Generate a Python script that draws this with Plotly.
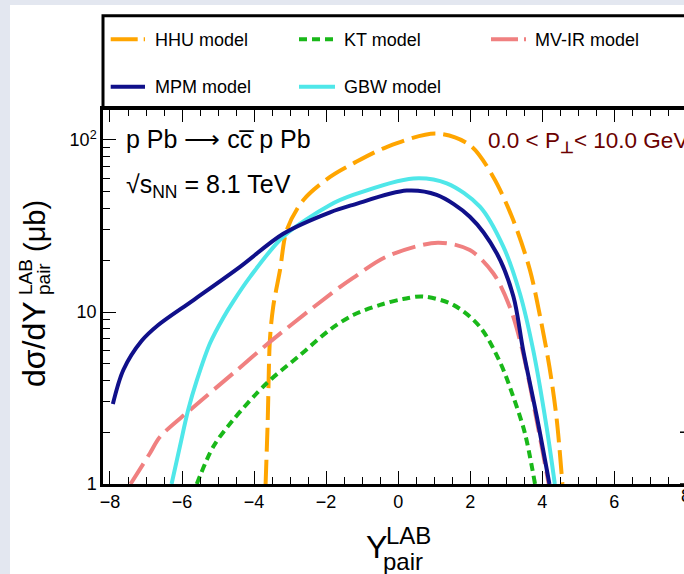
import plotly.graph_objects as go

# ---------------- data ----------------
hhu_x = [-3.68, -3.62, -3.56, -3.47, -3.28, -3.09, -2.63, -1.89, -1.25, -0.32, 1.07, 1.99, 2.64, 3.20, 3.66, 3.95, 4.20, 4.40, 4.56]
hhu_y = [1.0, 2.36, 6.9, 10.7, 17.5, 30.0, 44.8, 61.0, 73.0, 91.0, 109.0, 93.5, 61.0, 34.0, 17.5, 9.2, 4.8, 2.4, 1.0]

kt_x = [-5.59, -5.13, -4.58, -3.65, -2.73, -1.89, -1.25, -0.50, 0.14, 0.70, 1.53, 2.27, 2.83, 3.20, 3.52, 3.80]
kt_y = [1.0, 1.65, 2.36, 3.85, 5.6, 7.9, 9.6, 11.0, 11.9, 12.3, 11.0, 8.2, 5.1, 3.2, 1.97, 1.0]

mvir_x = [-7.43, -6.89, -6.61, -5.78, -4.58, -3.56, -2.17, -1.61, -1.25, -0.32, 1.10, 1.99, 2.64, 3.10, 3.45, 3.82, 4.18]
mvir_y = [1.0, 1.51, 1.88, 2.69, 4.4, 6.7, 11.4, 14.0, 15.8, 21.0, 25.3, 22.9, 16.8, 10.7, 6.0, 2.5, 1.0]

mpm_x = [-7.92, -7.63, -7.12, -6.66, -5.69, -4.39, -3.19, -1.89, -1.25, 0.24, 1.07, 1.99, 2.74, 3.20, 3.47, 3.85, 4.20]
mpm_y = [2.92, 4.6, 6.8, 8.4, 11.7, 18.3, 28.5, 38.0, 42.0, 50.8, 47.9, 35.8, 21.9, 12.3, 6.0, 2.46, 1.0]

gbw_x = [-6.29, -6.06, -5.83, -5.59, -5.22, -4.85, -4.58, -4.11, -3.19, -1.89, -1.25, 0.42, 1.35, 2.27, 2.92, 3.38, 3.75, 4.12, 4.35]
gbw_y = [1.0, 1.65, 2.69, 4.0, 6.6, 9.3, 11.5, 16.0, 27.4, 41.9, 47.9, 59.8, 56.0, 41.0, 24.0, 12.8, 6.0, 2.15, 1.0]

series_names = ["HHU model", "KT model", "MV-IR model", "MPM model", "GBW model"]
x_tick_vals = [-8, -6, -4, -2, 0, 2, 4, 6]
y_tick_vals = [1, 10, 100]
y_tick_text = ["1", "10", "10<sup>2</sup>"]

# ---------------- styles ----------------
FONT = "Liberation Sans, Arial, Helvetica, sans-serif"
C_HHU, C_KT, C_MV, C_MPM, C_GBW = "#FFA500", "#19B819", "#F08080", "#10108A", "#4FE7E9"
LW = 4
DASH_LONG = "24px,8px"
DASH_DOT = "8px,5px"

W, H = 684, 574
ML, MR, MT, MB = 103, 0, 109, 90
PW, PH = W - ML - MR, H - MT - MB


def px(xp):
    return (xp - ML) / PW


def py(yp):
    return (H - MB - yp) / PH


fig = go.Figure()
spec = [
    (hhu_x, hhu_y, C_HHU, DASH_LONG, series_names[0]),
    (kt_x, kt_y, C_KT, DASH_DOT, series_names[1]),
    (mvir_x, mvir_y, C_MV, DASH_LONG, series_names[2]),
    (gbw_x, gbw_y, C_GBW, "solid", series_names[4]),
    (mpm_x, mpm_y, C_MPM, "solid", series_names[3]),
]
for xs, ys, c, d, n in spec:
    fig.add_trace(go.Scatter(x=xs, y=ys, mode="lines", name=n,
                             line=dict(color=c, width=LW, dash=d, shape="spline", smoothing=0.9),
                             showlegend=False, hoverinfo="skip"))

shapes = []
# screenshot background strips: white canvas on top of light page
shapes.append(dict(type="rect", xref="paper", yref="paper", layer="below",
                   x0=px(10), x1=px(700), y0=py(580), y1=py(5),
                   fillcolor="white", line=dict(width=0)))
# legend box
shapes.append(dict(type="rect", xref="paper", yref="paper",
                   x0=px(103), x1=px(720), y0=py(108.5), y1=py(15.7),
                   fillcolor="rgba(0,0,0,0)", line=dict(color="black", width=3)))
# legend samples
leg = [
    (series_names[0], C_HHU, "27px,6px", 110.7, 145, 39.3, 152.7),
    (series_names[1], C_KT, DASH_DOT, 299, 335, 39.3, 341.7),
    (series_names[2], C_MV, "27px,6px", 491, 526, 39.3, 533),
    (series_names[3], C_MPM, "solid", 110.7, 145, 86.7, 152.7),
    (series_names[4], C_GBW, "solid", 299, 335, 86.7, 341.7),
]
annotations = []
for name, c, d, x0, x1, yy, xt in leg:
    shapes.append(dict(type="line", xref="paper", yref="paper",
                       x0=px(x0), x1=px(x1), y0=py(yy), y1=py(yy),
                       line=dict(color=c, width=LW, dash=d)))
    annotations.append(dict(xref="paper", yref="paper", x=px(xt), y=py(yy + 0.5),
                            xanchor="left", yanchor="middle", showarrow=False,
                            text=name, font=dict(family=FONT, size=18, color="black")))
# right-axis tick stubs at the cut edge
for lv in [1, 2]:
    shapes.append(dict(type="line", xref="paper", yref="y", x0=px(680), x1=px(686),
                       y0=lv, y1=lv, line=dict(color="black", width=1.5)))

# text inside plot
annotations.append(dict(xref="paper", yref="paper", x=px(124), y=py(139), xanchor="left", yanchor="middle",
                        showarrow=False, text="p Pb \u27F6 cc\u0305 p Pb",
                        font=dict(family=FONT, size=25, color="black")))
annotations.append(dict(xref="paper", yref="paper", x=px(124), y=py(186), xanchor="left", yanchor="middle",
                        showarrow=False, text="\u221As<sub>NN</sub> = 8.1 TeV",
                        font=dict(family=FONT, size=25, color="black")))
annotations.append(dict(xref="paper", yref="paper", x=px(486), y=py(142), xanchor="left", yanchor="middle",
                        showarrow=False, text="0.0 < P<sub><b>\u22A5</b></sub>< 10.0 GeV/c",
                        font=dict(family=FONT, size=22.5, color="#6B0000")))
# partially visible "8" tick label at the cut edge
annotations.append(dict(xref="paper", yref="paper", x=px(686.4), y=py(496), xanchor="center", yanchor="middle",
                        showarrow=False, text="8", font=dict(family=FONT, size=18, color="black")))

# x axis title (stacked super/subscript)
annotations.append(dict(xref="paper", yref="paper", x=px(376), y=py(547), xanchor="center", yanchor="middle",
                        showarrow=False, text="Y", font=dict(family=FONT, size=32, color="black")))
annotations.append(dict(xref="paper", yref="paper", x=px(384), y=py(535), xanchor="left", yanchor="middle",
                        showarrow=False, text="LAB", font=dict(family=FONT, size=24, color="black")))
annotations.append(dict(xref="paper", yref="paper", x=px(381), y=py(561), xanchor="left", yanchor="middle",
                        showarrow=False, text="pair", font=dict(family=FONT, size=24, color="black")))

# y axis title (rotated, stacked super/subscript)
annotations.append(dict(xref="paper", yref="paper", x=px(34), y=py(344), xanchor="center", yanchor="middle",
                        textangle=-90, showarrow=False, text="d\u03C3/dY",
                        font=dict(family=FONT, size=32, color="black")))
annotations.append(dict(xref="paper", yref="paper", x=px(25), y=py(297), xanchor="center", yanchor="bottom",
                        textangle=-90, showarrow=False, text="LAB",
                        font=dict(family=FONT, size=19, color="black")))
annotations.append(dict(xref="paper", yref="paper", x=px(43), y=py(297), xanchor="center", yanchor="bottom",
                        textangle=-90, showarrow=False, text="pair",
                        font=dict(family=FONT, size=19, color="black")))
annotations.append(dict(xref="paper", yref="paper", x=px(35), y=py(226), xanchor="center", yanchor="middle",
                        textangle=-90, showarrow=False, text="(\u03BCb)",
                        font=dict(family=FONT, size=29, color="black")))

minor_y = [m * 10 ** e for e in range(0, 3) for m in range(2, 10)]

fig.update_layout(
    width=W, height=H,
    margin=dict(l=ML, r=MR, t=MT, b=MB, pad=0),
    paper_bgcolor="#E3E7F0",
    plot_bgcolor="white",
    font=dict(family=FONT, size=18, color="black"),
    showlegend=False,
    shapes=shapes,
    annotations=annotations,
    xaxis=dict(range=[-8.194, 7.936], tickvals=x_tick_vals, ticks="inside", ticklen=13, tickwidth=1.2,
               tickcolor="black", showline=True, linecolor="black", linewidth=2.5, mirror="ticks",
               showgrid=False, zeroline=False, tickfont=dict(family=FONT, size=18),
               minor=dict(dtick=0.5, tick0=0, ticks="inside", ticklen=7, tickwidth=1.2, tickcolor="black",
                          showgrid=False)),
    yaxis=dict(type="log", range=[0, 2.1802], tickvals=y_tick_vals, ticktext=y_tick_text,
               ticks="inside", ticklen=13, tickwidth=1.2, tickcolor="black", showline=True,
               linecolor="black", linewidth=2.5, mirror=False, showgrid=False, zeroline=False,
               tickfont=dict(family=FONT, size=18),
               minor=dict(tickvals=minor_y, ticks="inside", ticklen=7, tickwidth=1.2, tickcolor="black",
                          showgrid=False)),
)

fig.write_html("out.html")
